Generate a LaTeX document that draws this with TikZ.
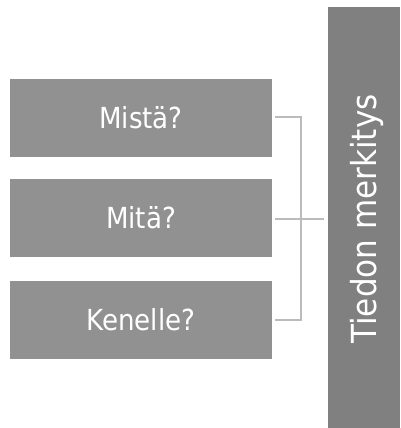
\documentclass[tikz,border=0pt]{standalone}
\usepackage{fontspec}
\setmainfont{DejaVu Sans Condensed}
\begin{document}
\begin{tikzpicture}[x=1pt,y=-1pt,
  qbox/.style={fill=boxgray,draw=none,minimum width=262pt,minimum height=78pt,inner sep=0pt,text=white,font=\fontsize{29}{33}\selectfont},
  link/.style={draw=linkgray,line width=2pt}]
\definecolor{boxgray}{HTML}{919191}
\definecolor{biggray}{HTML}{808080}
\definecolor{linkgray}{HTML}{BBBBBB}
\useasboundingbox (0,0) rectangle (400,428);
\node[qbox] (a) at (141,118) {Mistä?};
\node[qbox] (b) at (141,218) {Mitä?};
\node[qbox] (c) at (141,319.5) {Kenelle?};
\node[fill=biggray,minimum width=72pt,minimum height=421pt,inner sep=0pt,anchor=north west] (t) at (328,7) {};
\node[text=white,rotate=90,font=\fontsize{34.5}{40}\selectfont] (tl) at (367,219) {Tiedon merkitys};
\coordinate (ja) at (301,117);
\coordinate (jb) at (301,219);
\coordinate (jc) at (301,320);
\draw[link] (a.east |- ja) ++(3,0) -- (ja) -- (jc) -- ([xshift=3pt]c.east |- jc);
\draw[link] ([xshift=3pt]b.east |- jb) -- ([xshift=-4pt]t.west |- jb);
\end{tikzpicture}
\end{document}
